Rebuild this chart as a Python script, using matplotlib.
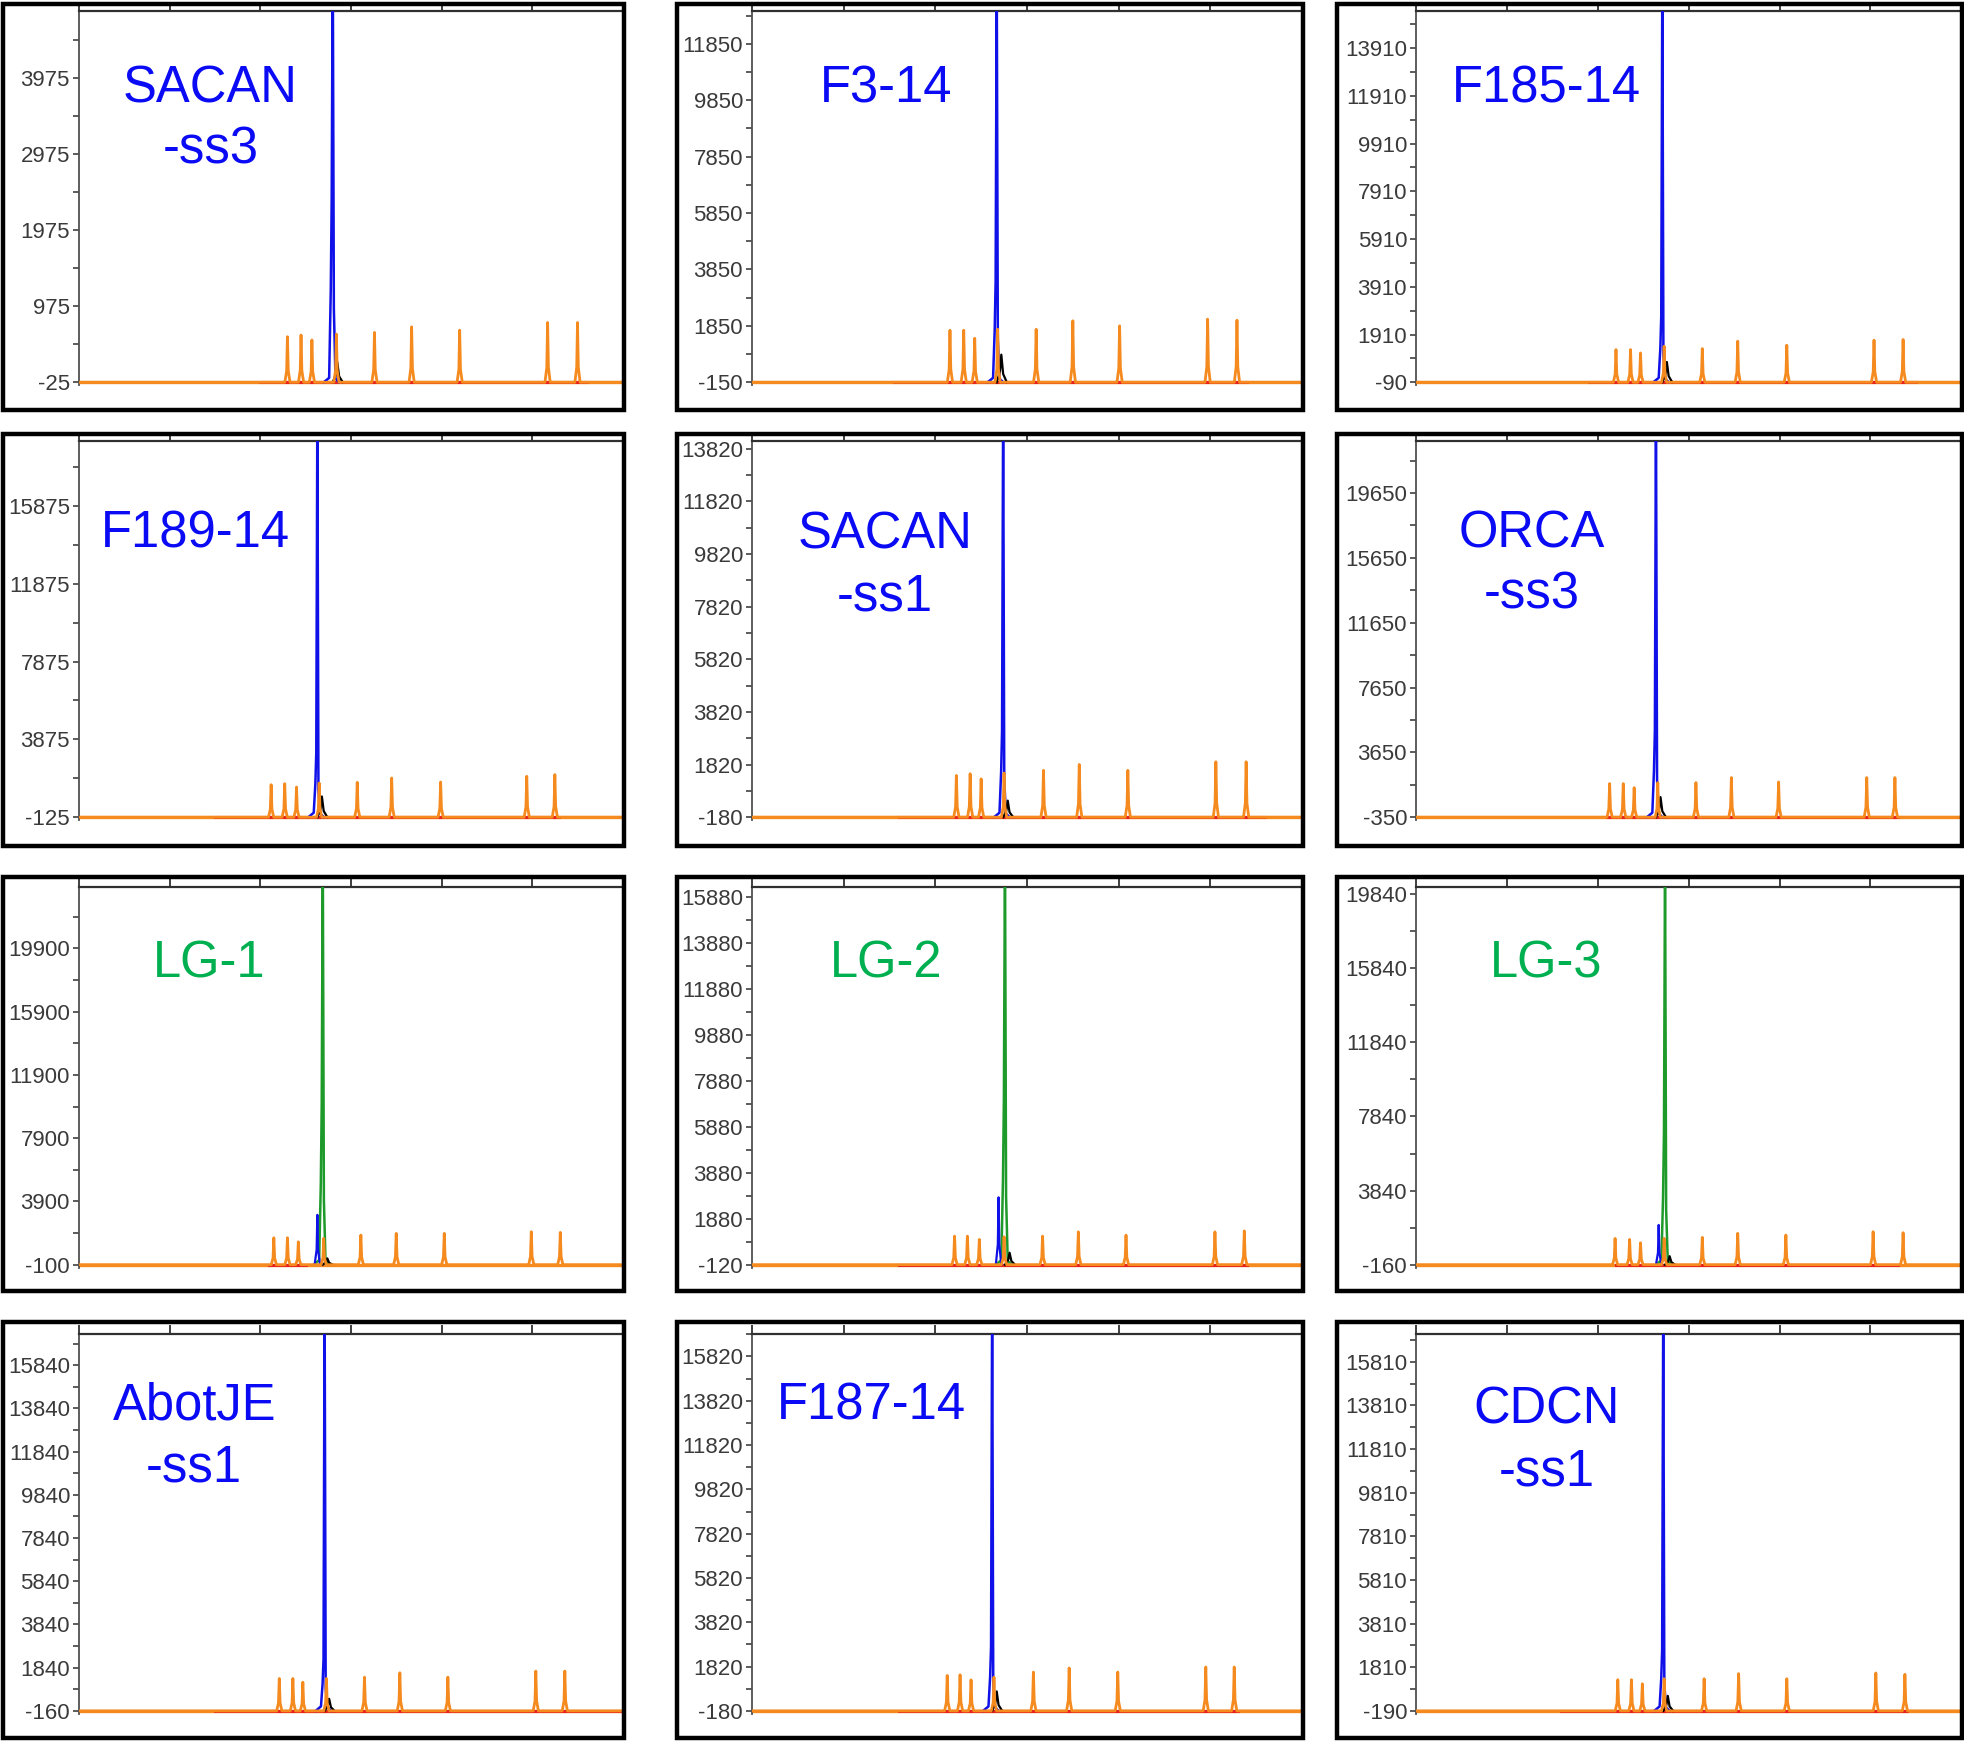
import numpy as np
import matplotlib.pyplot as plt
import matplotlib.patches as mpatches
from matplotlib.ticker import FixedLocator

# panel names (one entry per line of the in-plot label)
names = [["SACAN", "-ss3"], ["F3-14"], ["F185-14"],
         ["F189-14"], ["SACAN", "-ss1"], ["ORCA", "-ss3"],
         ["LG-1"], ["LG-2"], ["LG-3"],
         ["AbotJE", "-ss1"], ["F187-14"], ["CDCN", "-ss1"]]
main_dye = ["blue"] * 6 + ["green"] * 3 + ["blue"] * 3

# y axis: first tick, tick step, number of labelled ticks, top of the view
tick_base = [-25, -150, -90, -125, -180, -350, -100, -120, -160, -160, -180, -190]
tick_step = [1000, 2000, 2000, 4000, 2000, 4000, 4000, 2000, 4000, 2000, 2000, 2000]
tick_count = [5, 7, 8, 5, 8, 6, 6, 9, 6, 9, 9, 9]
y_top = [4850, 13000, 15450, 19200, 14100, 22850, 23750, 16300, 20200, 17300, 16850, 17100]

# main peak (blue or green): position, apex (off scale), shoulder height
main_pos = [2.80, 2.67, 2.71, 2.63, 2.74, 2.64, 2.69, 2.76, 2.74, 2.71, 2.62, 2.72]
main_height = [5600, 14500, 17000, 21000, 15500, 25000, 26000, 18000, 22000, 19000, 18500, 18500]
main_shoulder = [2375, 3440, 2660, 3185, 3100, 5000, 10000, 7100, 7000, 2230, 2720, 2600]

# blue peak beside the green one in the LG panels
lg_blue_pos = [2.63, 2.69, 2.67]
lg_blue_height = [3050, 2810, 1985]

# small black peak next to the main peak
black_height = [240, 830, 760, 940, 450, 890, 300, 400, 300, 400, 700, 500]

# red baseline stretch (start, end)
red_span = [(2.0, 5.6), (1.55, 5.4), (1.9, 5.5), (1.5, 5.3), (1.6, 5.6), (2.1, 5.3),
            (2.1, 2.5), (1.6, 5.4), (2.2, 5.3), (1.5, 6.0), (1.6, 5.3), (1.6, 5.4)]

# orange size-standard peaks: positions and heights
orange_pos = [
    [2.30, 2.45, 2.57, 2.84, 3.26, 3.67, 4.20, 5.17, 5.50],
    [2.16, 2.31, 2.43, 2.68, 3.10, 3.50, 4.01, 4.97, 5.29],
    [2.20, 2.36, 2.47, 2.73, 3.15, 3.54, 4.08, 5.04, 5.36],
    [2.12, 2.27, 2.40, 2.65, 3.07, 3.45, 3.99, 4.94, 5.25],
    [2.23, 2.38, 2.50, 2.75, 3.18, 3.57, 4.10, 5.06, 5.39],
    [2.13, 2.28, 2.40, 2.66, 3.08, 3.47, 3.99, 4.96, 5.27],
    [2.15, 2.30, 2.42, 2.70, 3.11, 3.50, 4.03, 4.99, 5.31],
    [2.21, 2.35, 2.48, 2.75, 3.17, 3.56, 4.08, 5.05, 5.37],
    [2.19, 2.35, 2.47, 2.73, 3.15, 3.54, 4.07, 5.03, 5.36],
    [2.21, 2.36, 2.47, 2.73, 3.15, 3.54, 4.07, 5.04, 5.36],
    [2.13, 2.27, 2.39, 2.64, 3.07, 3.46, 3.99, 4.95, 5.26],
    [2.22, 2.37, 2.49, 2.73, 3.17, 3.55, 4.08, 5.06, 5.38],
]
orange_height = [
    [574, 596, 531, 609, 630, 703, 660, 760, 760],
    [1695, 1695, 1410, 1730, 1730, 2030, 1850, 2090, 2050],
    [1279, 1279, 1138, 1420, 1321, 1632, 1462, 1674, 1702],
    [1547, 1599, 1427, 1634, 1668, 1892, 1685, 1978, 2065],
    [1406, 1471, 1276, 1497, 1601, 1823, 1601, 1927, 1927],
    [1723, 1723, 1474, 1785, 1785, 2096, 1826, 2096, 2096],
    [1602, 1602, 1347, 1560, 1772, 1879, 1879, 1985, 1943],
    [1123, 1123, 980, 1094, 1123, 1309, 1166, 1309, 1351],
    [1258, 1204, 1022, 1258, 1313, 1531, 1440, 1622, 1567],
    [1340, 1340, 1168, 1340, 1402, 1605, 1402, 1684, 1684],
    [1420, 1451, 1222, 1344, 1573, 1756, 1573, 1802, 1802],
    [1239, 1239, 1052, 1285, 1285, 1518, 1285, 1549, 1487],
]

# layout, in pixels of a 1568x1389 canvas
W, H = 1568.0, 1389.0
box_x = [(2, 498), (540, 1040), (1067, 1566)]
box_y = [(3, 327), (346, 675), (700, 1030), (1055, 1387)]
ax_left = [63, 600, 1130]
ax_top = [9, 352, 708, 1064]
ax_base = [305, 652, 1009, 1365]
label_xy = [(168, 71), (707, 71), (1234, 71),
            (156, 426), (706, 427), (1222, 426),
            (167, 769), (707, 769), (1234, 769),
            (155, 1122), (695, 1122), (1234, 1125)]
line_gap = 49

BLUE = "#1010E8"
GREEN = "#1E9A2A"
ORANGE = "#F58A1F"
RED = "#E8231E"
TEXT_BLUE = "#0A0AF5"
TEXT_GREEN = "#00B050"

fig = plt.figure(figsize=(19.65, 17.41), dpi=100)


def fx(x):
    return x / W


def fy(y):
    return 1 - y / H


def spikes(pos, hts, base, w):
    xs, ys = [0.0], [base]
    for p, h in sorted(zip(pos, hts)):
        xs += [p - w * 1.6, p - w * 0.5, p, p + w * 0.5, p + w * 1.6]
        ys += [base, base + (h - base) * 0.25, h, base + (h - base) * 0.25, base]
    xs.append(6.0)
    ys.append(base)
    return xs, ys


for i in range(12):
    r, c = divmod(i, 3)
    bl, br = box_x[c]
    bt, bb = box_y[r]
    base = tick_base[i]
    top = y_top[i]
    rng = top - base
    pad = 0.008 * rng

    # outer frame
    fig.add_artist(mpatches.Rectangle((fx(bl), fy(bb)), fx(br) - fx(bl), fy(bt) - fy(bb),
                                      transform=fig.transFigure, fill=False,
                                      lw=3.2, ec="black", zorder=10))

    h_px = ax_base[r] - ax_top[r]
    bottom_px = ax_base[r] + h_px * pad / rng
    ax = fig.add_axes([fx(ax_left[c]), fy(bottom_px), fx(br - 1) - fx(ax_left[c]),
                       fy(ax_top[r]) - fy(bottom_px)])
    ax.set_xlim(0, 6)
    ax.set_ylim(base - pad, top)

    # baselines
    ax.plot([0, 6], [base, base], color=ORANGE, lw=2.4, zorder=2)
    ax.plot(red_span[i], [base, base], color=RED, lw=2.2, zorder=3)

    # main peak
    p = main_pos[i]
    mcol = BLUE if main_dye[i] == "blue" else GREEN
    sh = main_shoulder[i]
    mx = [p - 0.10, p - 0.04, p - 0.022, p - 0.012, p, p + 0.012, p + 0.03, p + 0.07]
    my = [base, base + 0.012 * rng, sh * 0.5, sh, main_height[i], sh * 0.4, base + 0.01 * rng, base]
    ax.plot(mx, my, color=mcol, lw=1.8, zorder=4)

    if main_dye[i] == "green":
        k = i - 6
        bp = lg_blue_pos[k]
        ax.plot([bp - 0.03, bp - 0.008, bp, bp + 0.008, bp + 0.03],
                [base, base + 0.3 * (lg_blue_height[k] - base), lg_blue_height[k],
                 base + 0.3 * (lg_blue_height[k] - base), base],
                color=BLUE, lw=1.6, zorder=4)

    # black peak
    bx = p + 0.05
    ax.plot([bx - 0.05, bx - 0.015, bx, bx + 0.02, bx + 0.06],
            [base, base + 0.4 * (black_height[i] - base), black_height[i],
             base + 0.3 * (black_height[i] - base), base],
            color="black", lw=1.6, zorder=5)

    # orange size standard
    ox, oy = spikes(orange_pos[i], orange_height[i], base, 0.018)
    ax.plot(ox, oy, color=ORANGE, lw=2.0, zorder=6)

    # axes styling
    major = [base + k * tick_step[i] for k in range(tick_count[i])]
    minor = [v for v in np.arange(base + tick_step[i] / 2, top, tick_step[i])]
    ax.set_yticks(major)
    ax.set_yticklabels([str(v) for v in major])
    ax.yaxis.set_minor_locator(FixedLocator(minor))
    ax.xaxis.tick_top()
    ax.set_xticks(range(7))
    ax.set_xticklabels([])
    ax.tick_params(axis="x", which="major", direction="out", length=6.5, width=1.3,
                   color="#303030")
    ax.tick_params(axis="y", which="both", direction="out", length=4.5, width=1.2,
                   color="#404040", labelcolor="#3a3a3a", labelsize=16, pad=2)
    for lab in ax.get_yticklabels():
        lab.set_family(["Liberation Sans", "DejaVu Sans"])
    ax.spines["left"].set_color("#505050")
    ax.spines["left"].set_linewidth(1.3)
    ax.spines["top"].set_color("#303030")
    ax.spines["top"].set_linewidth(1.6)
    ax.spines["right"].set_visible(False)
    ax.spines["bottom"].set_visible(False)

    # sample label
    lx, ly = label_xy[i]
    tcol = TEXT_BLUE if main_dye[i] == "blue" else TEXT_GREEN
    for j, line in enumerate(names[i]):
        fig.text(fx(lx), fy(ly + j * line_gap), line, ha="center", va="center",
                 fontsize=36.5, color=tcol, family=["Liberation Sans", "DejaVu Sans"])

fig.savefig("out.png", dpi=100, facecolor="white")
plt.close(fig)
